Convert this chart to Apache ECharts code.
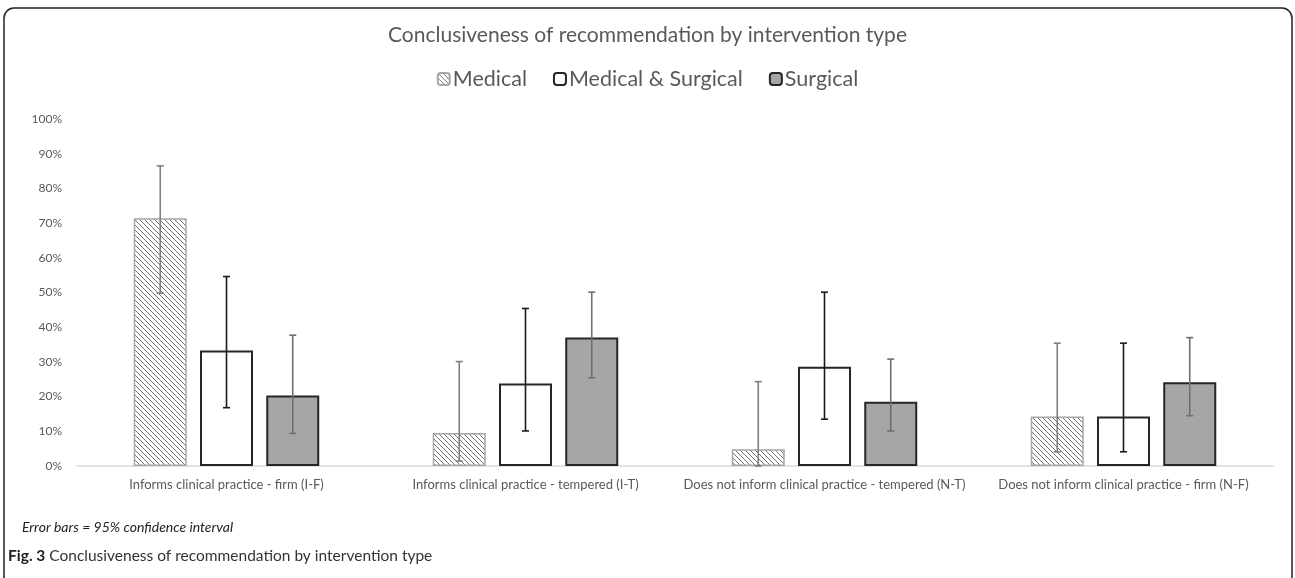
<!DOCTYPE html>
<html>
<head>
<meta charset="utf-8">
<script src="https://cdn.jsdelivr.net/npm/echarts@6/dist/echarts.min.js"></script>
<style>
html,body{margin:0;padding:0;background:#fff;}
#chart{width:1295px;height:578px;}
</style>
</head>
<body>
<div id="chart"></div>
<script>
const categories = [
  'Informs clinical practice - firm (I-F)',
  'Informs clinical practice - tempered (I-T)',
  'Does not inform clinical practice - tempered (N-T)',
  'Does not inform clinical practice - firm (N-F)'
];
const seriesNames = ['Medical', 'Medical & Surgical', 'Surgical'];
const medical = [71.4, 9.5, 4.8, 14.3];
const medSurg = [33.3, 23.8, 28.6, 14.3];
const surgical = [20.3, 37.0, 18.5, 24.1];
const medicalLow = [49.8, 1.4, 0, 4.1];
const medicalHigh = [86.5, 30.1, 24.3, 35.4];
const medSurgLow = [16.8, 10.1, 13.5, 4.1];
const medSurgHigh = [54.6, 45.4, 50.1, 35.4];
const surgicalLow = [9.4, 25.4, 10.1, 14.5];
const surgicalHigh = [37.7, 50.1, 30.8, 37.0];
const yTicks = [0,10,20,30,40,50,60,70,80,90,100];

const FONT = 'Lato, "Open Sans", sans-serif';
const BAR_W = 53;
const GAP_RATIO = 0.25;

// hatch pattern
function hatch() {
  const c = document.createElement('canvas');
  const s = 5;
  c.width = s; c.height = s;
  const g = c.getContext('2d');
  g.fillStyle = '#ffffff';
  g.fillRect(0,0,s,s);
  g.strokeStyle = '#737373';
  g.lineWidth = 1;
  g.beginPath();
  g.moveTo(-1,-1); g.lineTo(s+1,s+1);
  g.moveTo(-1,s-1); g.lineTo(1,s+1);
  g.moveTo(s-1,-1); g.lineTo(s+1,1);
  g.stroke();
  return c;
}
const hatchPattern = {image: hatch(), repeat: 'repeat'};

function errSeries(idx, lows, highs, color) {
  const data = lows.map((l, i) => [i, l, highs[i]]);
  return {
    type: 'custom',
    name: seriesNames[idx] + ' CI',
    z: 10,
    silent: true,
    data: data,
    encode: {x: 0, y: [1, 2]},
    renderItem: function (params, api) {
      const ci = api.value(0);
      const gap = BAR_W * GAP_RATIO;
      const off = (idx - 1) * (BAR_W + gap);
      const x = api.coord([ci, 0])[0] + off;
      const yl = api.coord([ci, api.value(1)])[1];
      const yh = api.coord([ci, api.value(2)])[1];
      const cw = 3.5;
      const st = {stroke: color, lineWidth: 1.6};
      return {
        type: 'group',
        children: [
          {type: 'line', shape: {x1: x, y1: yl, x2: x, y2: yh}, style: st},
          {type: 'line', shape: {x1: x - cw, y1: yh, x2: x + cw, y2: yh}, style: st},
          {type: 'line', shape: {x1: x - cw, y1: yl, x2: x + cw, y2: yl}, style: st}
        ]
      };
    }
  };
}

const chart = echarts.init(document.getElementById('chart'));
const option = {
  backgroundColor: '#ffffff',
  animation: false,
  title: {
    text: 'Conclusiveness of recommendation by intervention type',
    left: 'center',
    top: 20,
    textStyle: {fontFamily: FONT, fontSize: 21, fontWeight: 'normal', color: '#595959'}
  },
  legend: {
    data: seriesNames,
    top: 63,
    left: 'center',
    itemWidth: 12,
    itemHeight: 12,
    itemGap: 26,
    textStyle: {fontFamily: FONT, fontSize: 21.5, color: '#595959', padding: [0,0,0,-2]}
  },
  grid: {left: 77, right: 22, top: 119, bottom: 112, containLabel: false},
  xAxis: {
    type: 'category',
    data: categories,
    axisLine: {lineStyle: {color: '#d9d9d9', width: 1.5}},
    axisTick: {show: false},
    axisLabel: {fontFamily: FONT, fontSize: 13, color: '#595959', margin: 12, interval: 0}
  },
  yAxis: {
    type: 'value',
    min: yTicks[0],
    max: yTicks[yTicks.length - 1],
    interval: 10,
    axisLine: {show: false},
    axisTick: {show: false},
    splitLine: {show: false},
    axisLabel: {fontFamily: FONT, fontSize: 12, color: '#595959', margin: 15, formatter: '{value}%'}
  },
  series: [
    {
      name: seriesNames[0], type: 'bar', data: medical,
      barWidth: BAR_W, barGap: (GAP_RATIO * 100) + '%',
      itemStyle: {color: hatchPattern, borderColor: '#a6a6a6', borderWidth: 1.5}
    },
    {
      name: seriesNames[1], type: 'bar', data: medSurg,
      barWidth: BAR_W, barGap: (GAP_RATIO * 100) + '%',
      itemStyle: {color: '#ffffff', borderColor: '#262626', borderWidth: 2}
    },
    {
      name: seriesNames[2], type: 'bar', data: surgical,
      barWidth: BAR_W, barGap: (GAP_RATIO * 100) + '%',
      itemStyle: {color: '#a6a6a6', borderColor: '#262626', borderWidth: 2}
    },
    errSeries(0, medicalLow, medicalHigh, '#7f7f7f'),
    errSeries(1, medSurgLow, medSurgHigh, '#1a1a1a'),
    errSeries(2, surgicalLow, surgicalHigh, '#6f6f6f')
  ],
  graphic: [
    {
      type: 'rect', silent: true, z: 100,
      shape: {x: 4, y: 8, width: 1288, height: 580, r: 10},
      style: {fill: 'none', stroke: '#222222', lineWidth: 1.5}
    },
    {
      type: 'text', left: 22, top: 520, z: 100,
      style: {text: 'Error bars = 95% confidence interval', fontFamily: FONT, fontSize: 14, fontStyle: 'italic', fill: '#222222'}
    },
    {
      type: 'text', left: 8, top: 548, z: 100,
      style: {
        text: '{b|Fig. 3} Conclusiveness of recommendation by intervention type',
        fontFamily: FONT, fontSize: 15.5, fill: '#333333',
        rich: {b: {fontFamily: FONT, fontSize: 15.5, fontWeight: 'bold', fill: '#222222'}}
      }
    }
  ]
};
chart.setOption(option);
</script>
</body>
</html>
